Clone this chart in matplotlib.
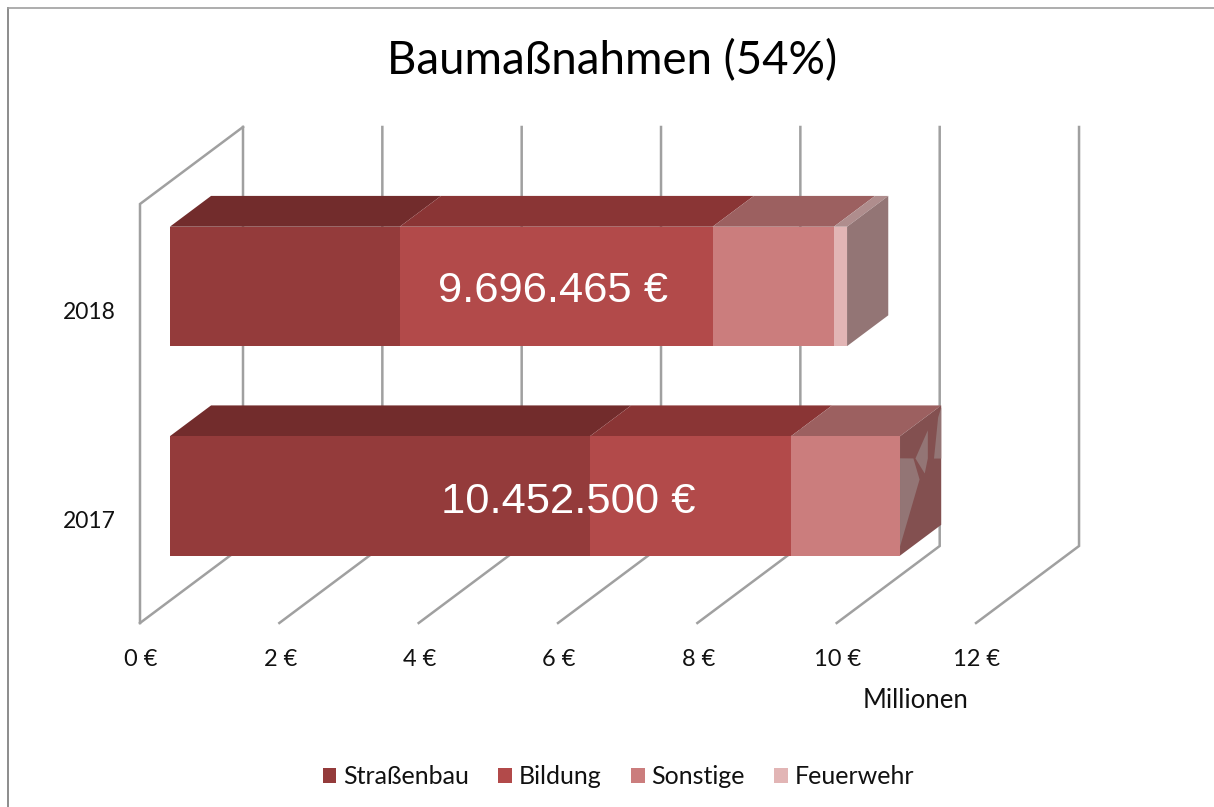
import matplotlib
matplotlib.use("Agg")
import matplotlib.pyplot as plt
from matplotlib.patches import Polygon, Patch

# ---- data (million euro) ----
years = ["2017", "2018"]
series = ["Straßenbau", "Bildung", "Sonstige", "Feuerwehr"]
strassenbau = [6.03, 3.30]
bildung = [2.885, 4.49]
sonstige = [1.565, 1.74]
feuerwehr = [0.0, 0.19]
totals = ["10.452.500 €", "9.696.465 €"]
xticks = [0, 2, 4, 6, 8, 10, 12]
xticklabels = ["0 €", "2 €", "4 €", "6 €", "8 €", "10 €", "12 €"]

# ---- styles ----
FRONT = ["#943B3B", "#B24A4A", "#CB7D7D", "#E2B5B5"]
TOP = ["#722C2C", "#8A3535", "#9C6060", "#AF8D8D"]
SIDE = ["#723030", "#835050", "#835050", "#937575"]
GRID = "#A0A0A0"
FONT = "Lato"

# ---- oblique projection: value (M€), category height, depth 0..1 ----
X0, Y0 = 140.0, 623.0
SX, SY = 69.67, 209.5
DX, DY = 103.0, 77.0
BAR_D0, BAR_D1 = 0.29, 0.69
BAR_T = 0.57


def proj(v, c, d=0.0):
    return (X0 + SX * v + DX * d, Y0 - SY * c - DY * d)


fig = plt.figure(figsize=(12.14, 8.07), dpi=100)
ax = fig.add_axes([0, 0, 1, 1])
ax.set_xlim(0, 1214)
ax.set_ylim(807, 0)
ax.axis("off")

# chart frame
ax.plot([8, 8], [807, 8], color="#8C8C8C", lw=1.4, zorder=1)
ax.plot([8, 1214], [8, 8], color="#A0A0A0", lw=1.2, zorder=1)

# walls and floor lines
for v in xticks:
    xs, ys = zip(proj(v, 0, 0), proj(v, 0, 1), proj(v, 2, 1))
    ax.plot(xs, ys, color=GRID, lw=1.8, solid_joinstyle="miter", zorder=2)
xs, ys = zip(proj(0, 0, 0), proj(0, 2, 0), proj(0, 2, 1))
ax.plot(xs, ys, color=GRID, lw=1.8, solid_joinstyle="miter", zorder=2)

# bars
columns = [strassenbau, bildung, sonstige, feuerwehr]
label_shift = [6.0, -8.7]
label_drop = [5.0, 3.0]
for i, year in enumerate(years):
    c0 = i + 0.5 - BAR_T / 2
    c1 = i + 0.5 + BAR_T / 2
    left = 0.0
    last = None
    for s, col in enumerate(columns):
        val = col[i]
        if val <= 0:
            continue
        right = left + val
        ax.add_patch(Polygon([proj(left, c1, BAR_D0), proj(right, c1, BAR_D0),
                              proj(right, c1, BAR_D1), proj(left, c1, BAR_D1)],
                             fc=TOP[s], ec="none", zorder=3))
        ax.add_patch(Polygon([proj(left, c0, BAR_D0), proj(right, c0, BAR_D0),
                              proj(right, c1, BAR_D0), proj(left, c1, BAR_D0)],
                             fc=FRONT[s], ec="none", zorder=4))
        left = right
        last = s
    ax.add_patch(Polygon([proj(left, c0, BAR_D0), proj(left, c0, BAR_D1),
                          proj(left, c1, BAR_D1), proj(left, c1, BAR_D0)],
                         fc=SIDE[last], ec="none", zorder=3))
    # rendering shards of the near-zero segment on the 2017 end face
    if i == 0:
        shards = [
            [(0.0, 0.815), (0.325, 0.73), (0.475, 0.515), (0.0, 0.076)],
            [(0.375, 0.717), (0.675, 0.875), (0.675, 0.64), (0.60, 0.533)],
            [(0.825, 0.60), (0.925, 0.918), (1.0, 0.983), (1.0, 0.555)],
        ]
        for sh in shards:
            pts = [proj(left, c0 + f * BAR_T, BAR_D0 + g * (BAR_D1 - BAR_D0)) for g, f in sh]
            ax.add_patch(Polygon(pts, fc=SIDE[3], ec="none", zorder=3.5))
    # total label on the bar front
    cx = proj(0, 0, BAR_D0)[0] + SX * 5.63 + label_shift[i]
    cy = proj(0, i + 0.5, BAR_D0)[1]
    ax.text(cx, cy + 1.5 + label_drop[i], totals[i], color="white",
            family="Liberation Sans", fontsize=31.3, ha="center", va="center", zorder=6)
    # category label
    ax.text(116, cy + 26, year, family=FONT, fontsize=16.5, color="#111111",
            ha="right", va="center")

# tick labels
for v, lab in zip(xticks, xticklabels):
    x, _ = proj(v, 0, 0)
    ax.text(x + 1, 660, lab, family=FONT, fontsize=17, color="#111111", ha="center", va="center")
ax.text(916, 701, "Millionen", family=FONT, fontsize=18.5, color="#111111", ha="center", va="center")

ax.text(612, 61, "Baumaßnahmen (54%)", family=FONT, fontsize=32.8, color="black", ha="center", va="center")

handles = [Patch(fc=c, ec="none", label=s) for c, s in zip(FRONT, series)]
leg = ax.legend(handles=handles, ncol=4, loc="center", bbox_to_anchor=(618.5 / 1214, 1 - 777 / 807),
                frameon=False, prop={"family": FONT, "size": 18}, handlelength=0.55, handleheight=0.55,
                handletextpad=0.28, columnspacing=1.16, labelcolor="#111111")

fig.savefig("out.png", dpi=100)
